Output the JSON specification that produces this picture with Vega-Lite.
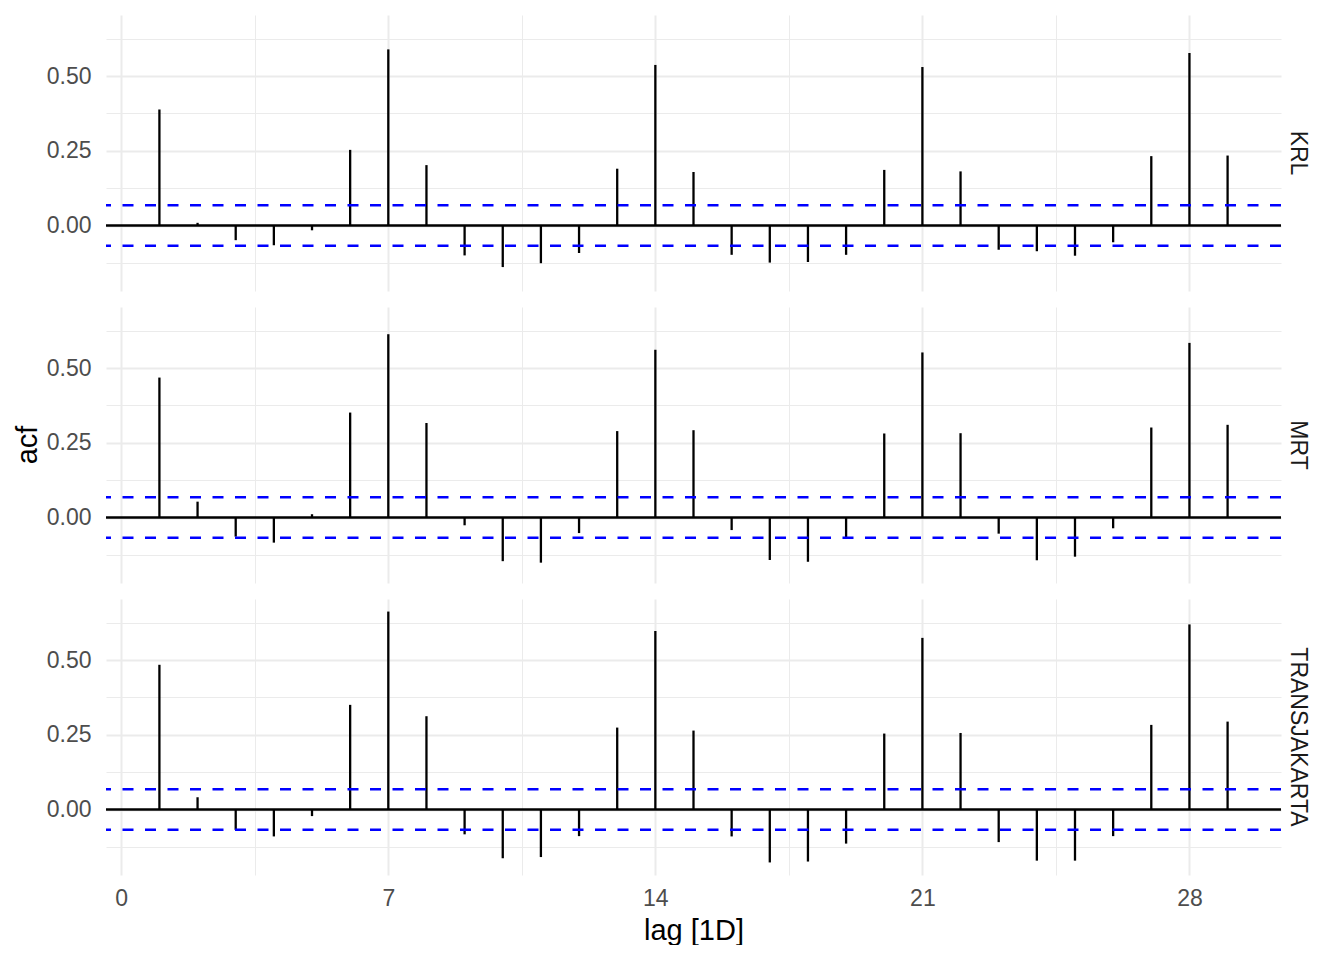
{
  "$schema": "https://vega.github.io/schema/vega-lite/v6.json",
  "background": "white",
  "padding": {"left": 14, "top": 15, "right": 0, "bottom": 0},
  "config": {
    "font": "Liberation Sans",
    "view": {"stroke": null},
    "axis": {"ticks": false, "domain": false, "labelColor": "#4D4D4D", "labelFontSize": 23, "titleFontSize": 29, "titleFontWeight": "normal", "titleColor": "black"}
  },
  "data": {
    "values": [
      {"series": "KRL", "lag": 1, "acf": 0.388}, {"series": "KRL", "lag": 2, "acf": 0.009}, {"series": "KRL", "lag": 3, "acf": -0.049},
      {"series": "KRL", "lag": 4, "acf": -0.066}, {"series": "KRL", "lag": 5, "acf": -0.016}, {"series": "KRL", "lag": 6, "acf": 0.253},
      {"series": "KRL", "lag": 7, "acf": 0.589}, {"series": "KRL", "lag": 8, "acf": 0.202}, {"series": "KRL", "lag": 9, "acf": -0.100},
      {"series": "KRL", "lag": 10, "acf": -0.139}, {"series": "KRL", "lag": 11, "acf": -0.126}, {"series": "KRL", "lag": 12, "acf": -0.092},
      {"series": "KRL", "lag": 13, "acf": 0.190}, {"series": "KRL", "lag": 14, "acf": 0.537}, {"series": "KRL", "lag": 15, "acf": 0.179},
      {"series": "KRL", "lag": 16, "acf": -0.098}, {"series": "KRL", "lag": 17, "acf": -0.124}, {"series": "KRL", "lag": 18, "acf": -0.122},
      {"series": "KRL", "lag": 19, "acf": -0.098}, {"series": "KRL", "lag": 20, "acf": 0.186}, {"series": "KRL", "lag": 21, "acf": 0.530},
      {"series": "KRL", "lag": 22, "acf": 0.181}, {"series": "KRL", "lag": 23, "acf": -0.081}, {"series": "KRL", "lag": 24, "acf": -0.086},
      {"series": "KRL", "lag": 25, "acf": -0.101}, {"series": "KRL", "lag": 26, "acf": -0.056}, {"series": "KRL", "lag": 27, "acf": 0.232},
      {"series": "KRL", "lag": 28, "acf": 0.577}, {"series": "KRL", "lag": 29, "acf": 0.234},
      {"series": "MRT", "lag": 1, "acf": 0.468}, {"series": "MRT", "lag": 2, "acf": 0.053}, {"series": "MRT", "lag": 3, "acf": -0.064},
      {"series": "MRT", "lag": 4, "acf": -0.084}, {"series": "MRT", "lag": 5, "acf": 0.011}, {"series": "MRT", "lag": 6, "acf": 0.351},
      {"series": "MRT", "lag": 7, "acf": 0.613}, {"series": "MRT", "lag": 8, "acf": 0.316}, {"series": "MRT", "lag": 9, "acf": -0.026},
      {"series": "MRT", "lag": 10, "acf": -0.146}, {"series": "MRT", "lag": 11, "acf": -0.151}, {"series": "MRT", "lag": 12, "acf": -0.052},
      {"series": "MRT", "lag": 13, "acf": 0.289}, {"series": "MRT", "lag": 14, "acf": 0.561}, {"series": "MRT", "lag": 15, "acf": 0.292},
      {"series": "MRT", "lag": 16, "acf": -0.042}, {"series": "MRT", "lag": 17, "acf": -0.142}, {"series": "MRT", "lag": 18, "acf": -0.148},
      {"series": "MRT", "lag": 19, "acf": -0.069}, {"series": "MRT", "lag": 20, "acf": 0.281}, {"series": "MRT", "lag": 21, "acf": 0.552},
      {"series": "MRT", "lag": 22, "acf": 0.282}, {"series": "MRT", "lag": 23, "acf": -0.054}, {"series": "MRT", "lag": 24, "acf": -0.143},
      {"series": "MRT", "lag": 25, "acf": -0.131}, {"series": "MRT", "lag": 26, "acf": -0.036}, {"series": "MRT", "lag": 27, "acf": 0.301},
      {"series": "MRT", "lag": 28, "acf": 0.584}, {"series": "MRT", "lag": 29, "acf": 0.310},
      {"series": "TRANSJAKARTA", "lag": 1, "acf": 0.484}, {"series": "TRANSJAKARTA", "lag": 2, "acf": 0.041}, {"series": "TRANSJAKARTA", "lag": 3, "acf": -0.068},
      {"series": "TRANSJAKARTA", "lag": 4, "acf": -0.090}, {"series": "TRANSJAKARTA", "lag": 5, "acf": -0.022}, {"series": "TRANSJAKARTA", "lag": 6, "acf": 0.350},
      {"series": "TRANSJAKARTA", "lag": 7, "acf": 0.662}, {"series": "TRANSJAKARTA", "lag": 8, "acf": 0.312}, {"series": "TRANSJAKARTA", "lag": 9, "acf": -0.083},
      {"series": "TRANSJAKARTA", "lag": 10, "acf": -0.163}, {"series": "TRANSJAKARTA", "lag": 11, "acf": -0.159}, {"series": "TRANSJAKARTA", "lag": 12, "acf": -0.089},
      {"series": "TRANSJAKARTA", "lag": 13, "acf": 0.274}, {"series": "TRANSJAKARTA", "lag": 14, "acf": 0.597}, {"series": "TRANSJAKARTA", "lag": 15, "acf": 0.264},
      {"series": "TRANSJAKARTA", "lag": 16, "acf": -0.090}, {"series": "TRANSJAKARTA", "lag": 17, "acf": -0.177}, {"series": "TRANSJAKARTA", "lag": 18, "acf": -0.174},
      {"series": "TRANSJAKARTA", "lag": 19, "acf": -0.114}, {"series": "TRANSJAKARTA", "lag": 20, "acf": 0.254}, {"series": "TRANSJAKARTA", "lag": 21, "acf": 0.574},
      {"series": "TRANSJAKARTA", "lag": 22, "acf": 0.256}, {"series": "TRANSJAKARTA", "lag": 23, "acf": -0.109}, {"series": "TRANSJAKARTA", "lag": 24, "acf": -0.171},
      {"series": "TRANSJAKARTA", "lag": 25, "acf": -0.171}, {"series": "TRANSJAKARTA", "lag": 26, "acf": -0.089}, {"series": "TRANSJAKARTA", "lag": 27, "acf": 0.283},
      {"series": "TRANSJAKARTA", "lag": 28, "acf": 0.619}, {"series": "TRANSJAKARTA", "lag": 29, "acf": 0.294}
    ]
  },
  "facet": {
    "row": {
      "field": "series",
      "type": "nominal",
      "title": "acf",
      "header": {
        "titleOrient": "left", "titleFontSize": 29, "titleFontWeight": "normal", "titleColor": "black", "titlePadding": -7,
        "labelOrient": "right", "labelAngle": 90, "labelFontSize": 23, "labelColor": "#1A1A1A", "labelPadding": 3
      }
    }
  },
  "spacing": {"row": 16},
  "spec": {
    "width": 1175,
    "height": 276,
    "layer": [
      {
        "transform": [{"filter": "datum.lag == 1"}],
        "mark": {"type": "rule", "color": "black", "strokeWidth": 2.4},
        "encoding": {"y": {"datum": 0, "type": "quantitative"}}
      },
      {
        "mark": {"type": "rule", "color": "black", "strokeWidth": 2.3},
        "encoding": {
          "x": {
            "field": "lag",
            "type": "quantitative",
            "title": "lag [1D]",
            "scale": {"domain": [-0.4, 30.4], "nice": false, "zero": false},
            "axis": {
              "grid": true,
              "values": [0, 3.5, 7, 10.5, 14, 17.5, 21, 24.5, 28],
              "labelExpr": "datum.value % 7 == 0 ? datum.label : ''",
              "labelPadding": 12,
              "titlePadding": 6,
              "gridColor": "#EBEBEB",
              "gridWidth": {"condition": {"test": "datum.value % 7 == 0", "value": 2}, "value": 1}
            }
          },
          "y": {
            "field": "acf",
            "type": "quantitative",
            "title": null,
            "scale": {"domain": [-0.219, 0.704], "nice": false, "zero": false},
            "axis": {
              "grid": true,
              "values": [-0.125, 0, 0.125, 0.25, 0.375, 0.5, 0.625],
              "format": ".2f",
              "labelExpr": "abs(datum.value * 4 - round(datum.value * 4)) < 0.001 ? datum.label : ''",
              "labelPadding": 13,
              "gridColor": "#EBEBEB",
              "gridWidth": {"condition": {"test": "abs(datum.value * 4 - round(datum.value * 4)) < 0.001", "value": 2}, "value": 1}
            }
          },
          "y2": {"datum": 0}
        }
      },
      {
        "transform": [{"filter": "datum.lag == 1"}],
        "mark": {"type": "rule", "color": "#0000FF", "strokeWidth": 2.4, "strokeDash": [11, 11.5]},
        "encoding": {"y": {"datum": 0.0676, "type": "quantitative"}}
      },
      {
        "transform": [{"filter": "datum.lag == 1"}],
        "mark": {"type": "rule", "color": "#0000FF", "strokeWidth": 2.4, "strokeDash": [11, 11.5]},
        "encoding": {"y": {"datum": -0.0676, "type": "quantitative"}}
      }
    ]
  }
}
